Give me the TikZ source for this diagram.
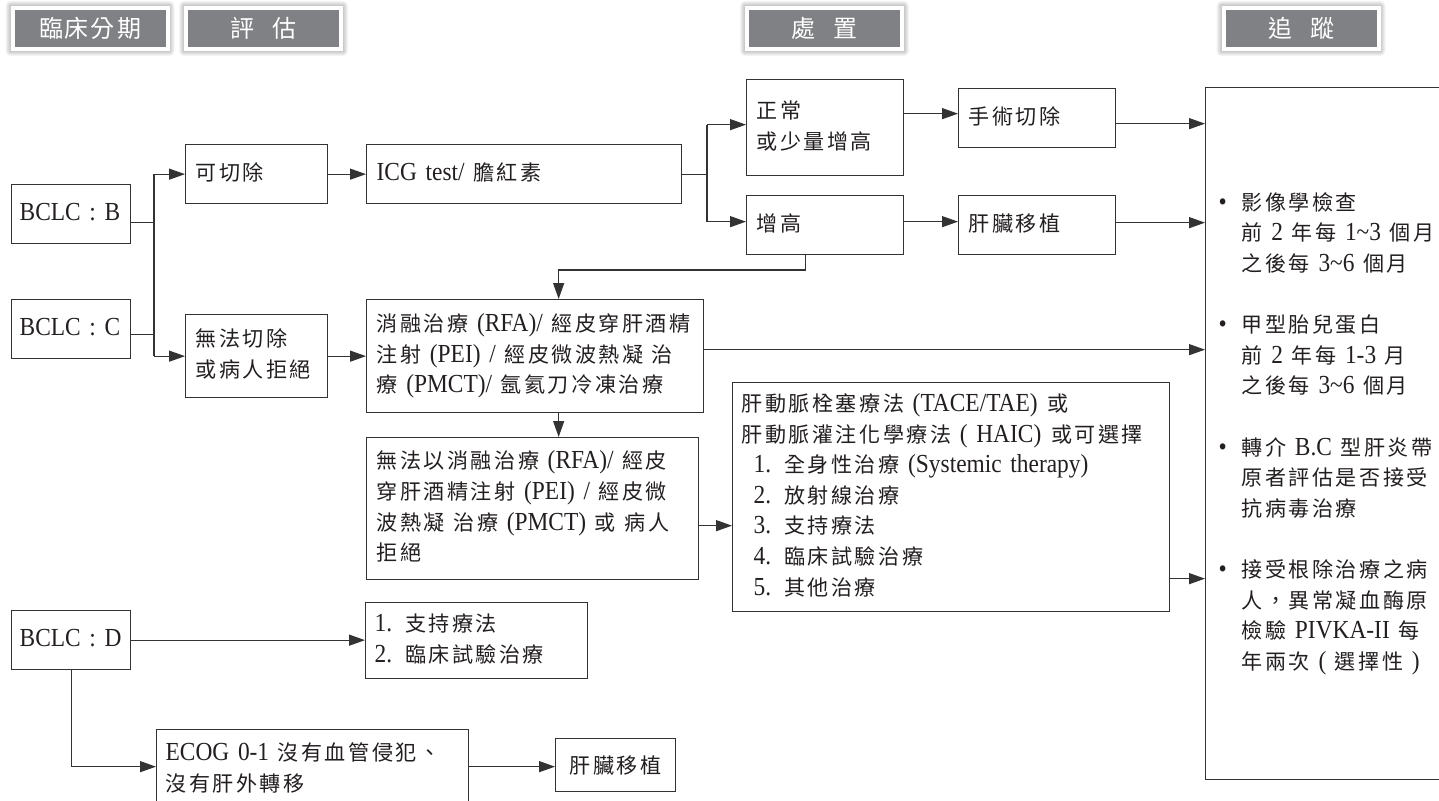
\documentclass[tikz,border=0pt]{standalone}
\usepackage{fontspec}
\setmainfont{Liberation Serif}[FakeStretch=0.9]
\newfontfamily\cjk{Noto Sans CJK TC}[Scale=0.81]
\newfontfamily\tabfont{Noto Sans CJK TC}
\usetikzlibrary{arrows.meta,backgrounds}
\definecolor{linec}{HTML}{333333}
\definecolor{txtc}{HTML}{231F20}
\definecolor{tabgray}{HTML}{808184}
% automatic switch between Latin and CJK fonts
\newXeTeXintercharclass\CJKcls
\newcount\tmpc
\tmpc="4E00
\loop
  \XeTeXcharclass\tmpc=\CJKcls
  \advance\tmpc by 1
\ifnum\tmpc<"A000 \repeat
\XeTeXcharclass"3001=\CJKcls
\XeTeXcharclass"FF0C=\CJKcls
\def\cjkswitch{\cjk}
\def\latinswitch{\rmfamily}
\def\cjkkern{\kern2.5pt}
\XeTeXinterchartoks 0 \CJKcls = {\cjkswitch}
\XeTeXinterchartoks 4095 \CJKcls = {\cjkswitch}
\XeTeXinterchartoks \CJKcls 0 = {\latinswitch}
\XeTeXinterchartoks \CJKcls 4095 = {\latinswitch}
\XeTeXinterchartoks \CJKcls \CJKcls = {\cjkkern}
\XeTeXinterchartokenstate=1
\newcommand\tabfontsetup{\tabfont\fontsize{24}{24}\selectfont\let\cjkswitch\relax\let\latinswitch\relax\def\cjkkern{\kern2pt}}
\newcommand\bodyfont{\fontsize{26}{30.6}\selectfont\parindent=0pt}
\newcommand\tl[1]{\begin{tabular}{@{}l@{}}#1\end{tabular}}
\newcommand\bul{\makebox[23pt][l]{•}}
\newcommand\ind{\hspace*{23pt}}
\begin{document}
\begin{tikzpicture}[x=1pt,y=-1pt,
  box/.style={draw=linec, line width=1.3pt, rectangle, anchor=north west, align=left, inner xsep=10pt, inner ysep=0pt, text=txtc, font=\bodyfont},
  arr/.style={draw=linec, line width=1.3pt, -{Triangle[length=16pt,width=11pt]}},
  ln/.style={draw=linec, line width=1.3pt},
  tab/.style={fill=tabgray, draw=white, line width=4pt, minimum width=155pt, minimum height=41pt, inner sep=0pt, text=white, font=\tabfontsetup}
]
\useasboundingbox (0,0) rectangle (1439,800);
\clip (0,0) rectangle (1439,800);

% header tabs
\node[tab] (t1) at (90,28.5) {臨床分期};
\node[tab] (t2) at (263.5,28.5) {評\hspace{18pt}估};
\node[tab] (t3) at (824.5,28.5) {處\hspace{18pt}置};
\node[tab] (t4) at (1301,28.5) {追\hspace{18pt}蹤};
\begin{pgfonlayer}{background}
\fill[white] (0,0) rectangle (1439,800);
\foreach \t in {t1,t2,t3,t4}{
  \foreach \i in {1,...,5}{
    \fill[black,opacity=0.045,rounded corners=\i pt] ([shift={(-\i pt,\i pt)}]\t.north west) rectangle ([shift={(\i pt,-\i pt)}]\t.south east);
  }
}
\end{pgfonlayer}

% boxes
\node[box,inner xsep=8pt,text width=103pt,minimum height=59pt] (B) at (11,184) {\tl{BCLC : B}};
\node[box,inner xsep=8pt,text width=103pt,minimum height=59pt] (C) at (11,299) {\tl{BCLC : C}};
\node[box,inner xsep=8pt,text width=103pt,minimum height=59pt] (D) at (11,610) {\tl{BCLC : D}};
\node[box,text width=122pt,minimum height=59pt] (kq) at (185,144) {\tl{可切除}};
\node[box,text width=295pt,minimum height=59pt] (icg) at (366,144) {\tl{ICG test/ 膽紅素}};
\node[box,text width=137pt,minimum height=96pt] (nor) at (746,79) {\tl{正常\\或少量增高}};
\node[box,text width=137pt,minimum height=59pt] (high) at (746,195) {\tl{增高}};
\node[box,text width=137pt,minimum height=59pt] (surg) at (958,88) {\tl{手術切除}};
\node[box,text width=137pt,minimum height=59pt] (ltx) at (958,195) {\tl{肝臟移植}};
\node[box,text width=122pt,minimum height=83pt] (unres) at (185,314) {\tl{無法切除\\或病人拒絕}};
\node[box,text width=317pt,minimum height=113pt] (abl) at (366,299) {\tl{消融治療 (RFA)/ 經皮穿肝酒精\\注射 (PEI) / 經皮微波熱凝 治\\療 (PMCT)/ 氬氦刀冷凍治療}};
\node[box,text width=312pt,minimum height=142pt] (noabl) at (366,437) {\tl{無法以消融治療 (RFA)/ 經皮\\穿肝酒精注射 (PEI) / 經皮微\\波熱凝 治療 (PMCT) 或 病人\\拒絕}};
\node[box,inner xsep=9pt,text width=419pt,minimum height=229pt] (haic) at (732,382) {\tl{肝動脈栓塞療法 (TACE/TAE)\hspace{10pt}或\\肝動脈灌注化學療法 ( HAIC)\hspace{10pt}或可選擇\\\hspace*{12pt}1. 全身性治療 (Systemic therapy)\\\hspace*{12pt}2. 放射線治療\\\hspace*{12pt}3. 支持療法\\\hspace*{12pt}4. 臨床試驗治療\\\hspace*{12pt}5. 其他治療}};
\node[box,inner xsep=13pt,text width=234pt,minimum height=692pt] (fu) at (1205,87) {\tl{\bul 影像學檢查\\\ind 前 2 年每 1\textasciitilde3 個月\\\ind 之後每 3\textasciitilde6 個月\\ \\\bul 甲型胎兒蛋白\\\ind 前 2 年每 1-3 月\\\ind 之後每 3\textasciitilde6 個月\\ \\\bul 轉介 B.C 型肝炎帶\\\ind 原者評估是否接受\\\ind 抗病毒治療\\ \\\bul 接受根除治療之病\\\ind 人，異常凝血酶原\\\ind 檢驗 PIVKA-II 每\\\ind 年兩次 ( 選擇性 )}};
\node[box,inner xsep=9pt,text width=204pt,minimum height=76pt] (supp) at (365,602) {\tl{1. 支持療法\\2. 臨床試驗治療}};
\node[box,inner xsep=9pt,text width=294pt,minimum height=81pt] (ecog) at (156,729) {\tl{ECOG 0-1 沒有血管侵犯、\\沒有肝外轉移}};
\node[box,inner xsep=10pt,text width=100pt,minimum height=53pt,align=center] (ltx2) at (555,738) {肝臟移植};

% connectors
\coordinate (jx) at (154,0);
\coordinate (jy) at (707,0);
\draw[ln] ([yshift=-8.5pt]B.east) -- ([yshift=-8.5pt]B.east -| jx);
\draw[ln] ([yshift=-5.5pt]C.east) -- ([yshift=-5.5pt]C.east -| jx);
\draw[ln] (jx |- kq.west) -- (jx |- unres.west);
\draw[arr] (jx |- kq.west) -- (kq.west);
\draw[arr] (jx |- unres.west) -- (unres.west);
\draw[arr] (kq.east) -- (icg.west);
\draw[ln] (icg.east) -- (icg.east -| jy);
\draw[ln] ([yshift=3pt]nor.west -| jy) -- ([yshift=3.5pt]high.west -| jy);
\draw[arr] ([yshift=3pt]nor.west -| jy) -- ([yshift=3pt]nor.west);
\draw[arr] ([yshift=3.5pt]high.west -| jy) -- ([yshift=3.5pt]high.west);
\draw[arr] ([yshift=14pt]nor.east) -- ([yshift=14pt]nor.east -| surg.west);
\draw[arr] ([yshift=3.5pt]high.east) -- ([yshift=3.5pt]high.east -| ltx.west);
\draw[arr] ([yshift=-5.5pt]surg.east) -- ([yshift=-5.5pt]surg.east -| fu.west);
\draw[arr] ([yshift=2.5pt]ltx.east) -- ([yshift=2.5pt]ltx.east -| fu.west);
\draw[arr] ([xshift=-19.5pt]high.south) |- ([xshift=23.5pt,yshift=29pt]abl.north) -- ([xshift=23.5pt]abl.north);
\draw[arr] (unres.east) -- (abl.west);
\draw[arr] ([yshift=6.5pt]abl.east) -- ([yshift=6.5pt]abl.east -| fu.west);
\draw[arr] ([xshift=23.5pt]abl.south) -- ([xshift=23.5pt]abl.south |- noabl.north);
\draw[arr] ([yshift=-17pt]noabl.east) -- ([yshift=-17pt]noabl.east -| haic.west);
\draw[arr] ([yshift=-81.5pt]haic.east) -- ([yshift=-81.5pt]haic.east -| fu.west);
\draw[arr] (D.east) -- (D.east -| supp.west);
\draw[arr] (D.south) |- ([yshift=3.5pt]ecog.west);
\draw[arr] ([yshift=3.5pt]ecog.east) -- ([yshift=3.5pt]ecog.east -| ltx2.west);
\end{tikzpicture}
\end{document}
